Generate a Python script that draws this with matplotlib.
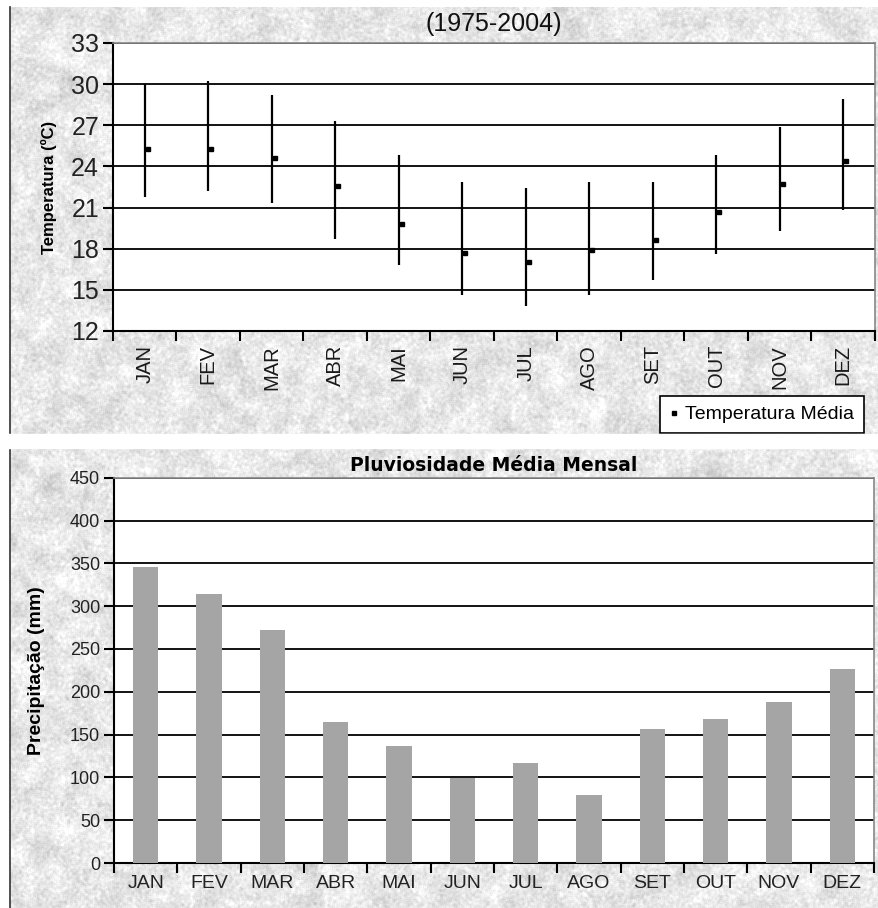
import numpy as np
import matplotlib.pyplot as plt
import matplotlib.transforms as mtransforms
from matplotlib.patches import Rectangle

plt.rcParams['font.family'] = ['Liberation Sans', 'DejaVu Sans']

meses = ['JAN', 'FEV', 'MAR', 'ABR', 'MAI', 'JUN',
         'JUL', 'AGO', 'SET', 'OUT', 'NOV', 'DEZ']

# temperaturas (1975-2004): maxima, minima e media mensal
temp_max = [30.0, 30.2, 29.2, 27.3, 24.8, 22.9, 22.4, 22.9, 22.9, 24.8, 26.9, 28.9]
temp_min = [21.8, 22.2, 21.3, 18.7, 16.8, 14.6, 13.8, 14.6, 15.7, 17.6, 19.3, 20.8]
temp_med = [25.3, 25.3, 24.6, 22.6, 19.8, 17.7, 17.0, 17.9, 18.6, 20.7, 22.7, 24.4]

# precipitacao media mensal (mm)
chuva = [346, 314, 272, 165, 137, 99, 117, 79, 156, 168, 188, 226]

W, H = 879, 908
fig = plt.figure(figsize=(W / 100, H / 100), dpi=100)
fig.patch.set_facecolor('white')


def suaviza(a, n):
    k = np.ones(n) / n
    a = np.apply_along_axis(lambda r: np.convolve(r, k, mode='same'), 1, a)
    return np.apply_along_axis(lambda c: np.convolve(c, k, mode='same'), 0, a)


# fundo de papel marmorizado
rng = np.random.default_rng(7)
fino = suaviza(rng.normal(0, 1, (H, W)), 3)
grosso = suaviza(rng.normal(0, 1, (H // 6 + 1, W // 6 + 1)), 3)
grosso = np.kron(grosso, np.ones((6, 6)))[:H, :W]
grosso = suaviza(grosso, 5)
textura = 0.905 + 0.03 * fino / fino.std() + 0.025 * grosso / grosso.std()
textura = np.clip(textura, 0, 1)


def painel(x0, y0, x1, y1):
    # coordenadas em pixels, origem no canto superior
    ext = [x0 / W, x1 / W, 1 - y1 / H, 1 - y0 / H]
    bg = fig.add_axes([ext[0], ext[2], ext[1] - ext[0], ext[3] - ext[2]], zorder=-5)
    bg.imshow(textura[y0:y1, x0:x1], cmap='gray', vmin=0, vmax=1, aspect='auto',
              interpolation='nearest')
    bg.set_axis_off()
    fig.add_artist(plt.Line2D([x0 / W, x0 / W], [ext[2], ext[3]],
                              color='#333333', lw=1.2))


painel(10, 7, 879, 434)
painel(10, 448, 879, 908)

x = np.arange(len(meses))


def estilo(ax):
    ax.set_facecolor('white')
    ax.set_xlim(-0.5, len(meses) - 0.5)
    ax.spines['left'].set_color('black')
    ax.spines['bottom'].set_color('black')
    ax.spines['left'].set_linewidth(1.5)
    ax.spines['bottom'].set_linewidth(1.5)
    for s in ('top', 'right'):
        ax.spines[s].set_color('#888888')
        ax.spines[s].set_linewidth(1.2)
    ax.yaxis.grid(True, color='black', lw=1.3)
    ax.set_axisbelow(True)
    ax.set_xticks(x)
    ax.set_xticks(np.arange(-0.5, len(meses)), minor=True)
    ax.tick_params(axis='x', which='major', length=0, pad=10)
    ax.tick_params(axis='x', which='minor', length=7, width=1.5, direction='out')
    ax.tick_params(axis='y', length=7, width=1.5, direction='out')


# ---- temperaturas ----
ax1 = fig.add_axes([113 / W, 1 - 331 / H, 762 / W, 288 / H])
estilo(ax1)
ax1.set_ylim(12, 33)
ax1.set_yticks(np.arange(12, 34, 3))
ax1.tick_params(axis='y', labelsize=18, pad=3, labelcolor='#222222')
ax1.set_xticklabels(meses, rotation=90, fontsize=14.5, color='#1a1a1a')
ax1.vlines(x, temp_min, temp_max, color='black', lw=1.6, zorder=3)
desloc = mtransforms.offset_copy(ax1.transData, fig=fig, x=3, y=0, units='dots')
ax1.plot(x, temp_med, 's', color='black', ms=2.2, transform=desloc, zorder=4,
         label='Temperatura Média')
ax1.set_ylabel('Temperatura (ºC)', fontsize=12, fontweight='bold', labelpad=10)
ax1.set_title('(1975-2004)', fontsize=18, pad=9, color='#111111')
leg = ax1.legend(loc='upper left', bbox_to_anchor=(660 / W, 1 - 396 / H),
                 bbox_transform=fig.transFigure, fontsize=14, frameon=True,
                 fancybox=False, edgecolor='black', handlelength=0.4,
                 handletextpad=0.4, borderpad=0.5, borderaxespad=0)
leg.get_frame().set_linewidth(1.2)
leg.get_frame().set_alpha(1)

# faixa branca entre os paineis
fig.add_artist(Rectangle((0, 1 - 448 / H), 1, 14 / H, transform=fig.transFigure,
                         color='white', zorder=10))

# ---- pluviosidade ----
ax2 = fig.add_axes([114 / W, 1 - 863 / H, 760 / W, 385.3 / H])
estilo(ax2)
ax2.set_ylim(0, 450)
ax2.set_yticks(np.arange(0, 451, 50))
ax2.tick_params(axis='y', labelsize=13, pad=3, labelcolor='#222222')
ax2.tick_params(axis='x', which='major', pad=9)
ax2.set_xticklabels(meses, fontsize=14, color='#222222')
ax2.bar(x, chuva, width=0.4, color='#a5a5a5', zorder=3)
ax2.set_ylabel('Precipitação (mm)', fontsize=14, fontweight='bold', labelpad=18)
ax2.set_title('Pluviosidade Média Mensal', fontsize=13.5, fontweight='bold',
              family='DejaVu Sans', pad=5)

fig.savefig('out.png', dpi=100)
